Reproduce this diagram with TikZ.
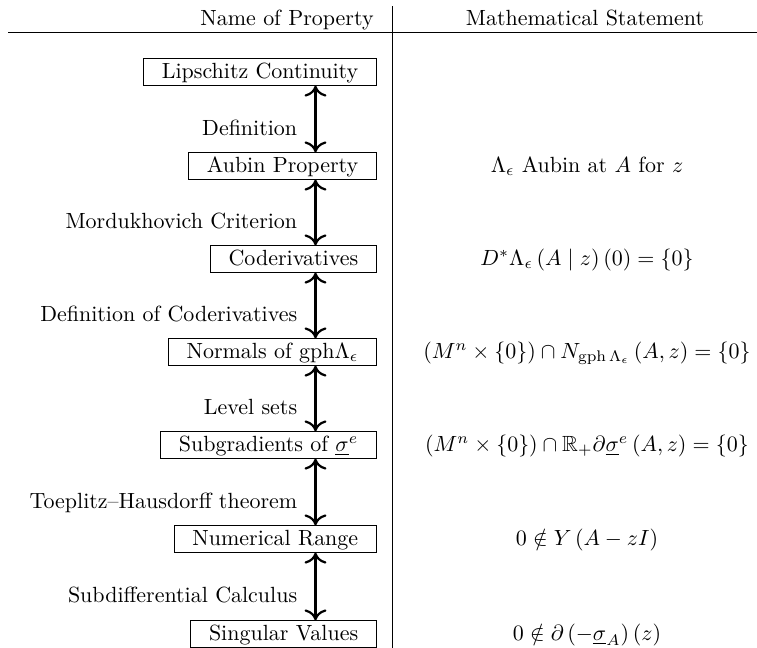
\documentclass[tikz,border=0pt]{standalone}
\usepackage{amsmath,amssymb}
\usetikzlibrary{arrows.meta}
\begin{document}
\begin{tikzpicture}[x=0.455pt,y=-0.455pt,
  prop/.style={draw, line width=0.5pt, anchor=east, inner xsep=8.3pt, inner ysep=1pt, text height=7.7pt, text depth=2.2pt},
  lbl/.style={anchor=base east, xshift=-4.5pt, yshift=-7.3pt},
  stmt/.style={anchor=base},
  hdr/.style={anchor=base},
  rule/.style={line width=0.45pt},
  dbl/.style={line width=1pt, {Computer Modern Rightarrow[width=10pt,length=5pt]}-{Computer Modern Rightarrow[width=10pt,length=5pt]}}]
\useasboundingbox (0,0) rectangle (757,648);
% table header and rules
\node[hdr] (h1) at (287,25) {Name of Property};
\node[hdr] (h2) at (585,25) {Mathematical Statement};
\draw[rule] (8,32) -- (757,32);
\draw[rule] (392,6) -- (392,648);
% property boxes
\node[prop] (n1) at (377,72) {Lipschitz Continuity};
\node[prop] (n2) at (377,166) {Aubin Property};
\node[prop] (n3) at (377,259) {Coderivatives};
\node[prop] (n4) at (377,352) {Normals of gph$\Lambda_\epsilon$};
\node[prop] (n5) at (377,445) {Subgradients of $\underline{\sigma}^e$};
\node[prop] (n6) at (377,539) {Numerical Range};
\node[prop] (n7) at (377,634) {Singular Values};
% connectors
\coordinate (ax) at (315.5,0);
\draw[dbl] (ax |- n1.south) -- (ax |- n2.north) node[midway,lbl] {Definition};
\draw[dbl] (ax |- n2.south) -- (ax |- n3.north) node[midway,lbl] {Mordukhovich Criterion};
\draw[dbl] (ax |- n3.south) -- (ax |- n4.north) node[midway,lbl] {Definition of Coderivatives};
\draw[dbl] (ax |- n4.south) -- (ax |- n5.north) node[midway,lbl] {Level sets};
\draw[dbl] (ax |- n5.south) -- (ax |- n6.north) node[midway,lbl] {Toeplitz--Hausdorff theorem};
\draw[dbl] (ax |- n6.south) -- (ax |- n7.north) node[midway,lbl] {Subdifferential Calculus};
% statements
\coordinate (sx) at (587,0);
\node[stmt] (s2) at (sx |- n2.base) {$\Lambda_\epsilon$ Aubin at $A$ for $z$};
\node[stmt] (s3) at (sx |- n3.base) {$D^*\Lambda_\epsilon\left(A\mid z\right)\left(0\right)=\{0\}$};
\node[stmt] (s4) at (sx |- n4.base) {$\left(M^n\times\{0\}\right)\cap N_{\operatorname{gph}\Lambda_\epsilon}\left(A,z\right)=\{0\}$};
\node[stmt] (s5) at (sx |- n5.base) {$\left(M^n\times\{0\}\right)\cap\mathbb{R}_+\partial\underline{\sigma}^e\left(A,z\right)=\{0\}$};
\node[stmt] (s6) at (sx |- n6.base) {$0\notin Y\left(A-zI\right)$};
\node[stmt] (s7) at (sx |- n7.base) {$0\notin\partial\left(-\underline{\sigma}_A\right)\left(z\right)$};
\end{tikzpicture}
\end{document}
